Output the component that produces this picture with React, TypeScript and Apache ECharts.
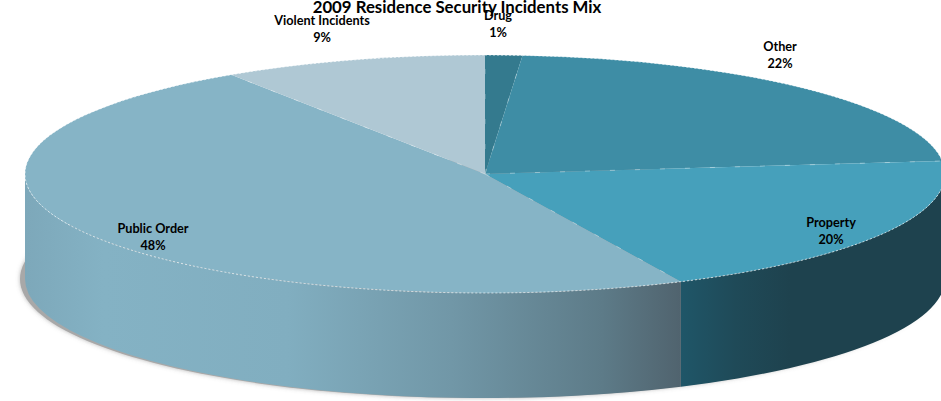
import React, { useEffect, useRef } from "react";
import * as echarts from "echarts";

const TITLE = "2009 Residence Security Incidents Mix";
const categories = ["Drug", "Other", "Property", "Public Order", "Violent Incidents"];
const sliceShares = [1.3, 21.95, 19.75, 47.7, 9.3];
const labelPercents = ["1%", "22%", "20%", "48%", "9%"];

const topColors = ["#347a8e", "#3e8da5", "#46a0bb", "#86b4c6", "#afc8d4"];
const labelCenters: number[][] = [
  [498, 23],
  [780, 54],
  [831, 230],
  [153, 236],
  [322, 28],
];

const CX = 485;
const CY = 174;
const RX = 460;
const RY = 119;
const DEPTH = 105;
const FONT = "Lato, 'Open Sans', sans-serif";

const px = (deg: number) => CX + RX * Math.sin((deg * Math.PI) / 180);
const py = (deg: number) => CY - RY * Math.cos((deg * Math.PI) / 180);

const cumulative = (i: number) => {
  const total = sliceShares.reduce((a, b) => a + b, 0);
  return (sliceShares.slice(0, i).reduce((a, b) => a + b, 0) / total) * 360;
};

const wallFills = (): Record<number, any> => ({
  1: "#1e424e",
  2: new echarts.graphic.LinearGradient(
    681, 0, 790, 0,
    [
      { offset: 0, color: "#1f5668" },
      { offset: 0.5, color: "#1f4a58" },
      { offset: 1, color: "#1e424e" },
    ],
    true
  ),
  3: new echarts.graphic.LinearGradient(
    25, 0, 681, 0,
    [
      { offset: 0, color: "#7da8ba" },
      { offset: 0.12, color: "#84b2c4" },
      { offset: 0.4, color: "#81aec0" },
      { offset: 0.65, color: "#7197a7" },
      { offset: 0.88, color: "#5d7b88" },
      { offset: 1, color: "#50636e" },
    ],
    true
  ),
});

const topPath = (a: number, b: number) =>
  `M${CX} ${CY}L${px(a)} ${py(a)}A${RX} ${RY} 0 ${b - a > 180 ? 1 : 0} 1 ${px(b)} ${py(b)}Z`;

const rimPath = (a: number, b: number) =>
  `M${px(a)} ${py(a)}A${RX} ${RY} 0 ${b - a > 180 ? 1 : 0} 1 ${px(b)} ${py(b)}`;

const wallPath = (a: number, b: number) => {
  const s = Math.max(a, 90);
  const e = Math.min(b, 270);
  if (e <= s) return null;
  const large = e - s > 180 ? 1 : 0;
  return (
    `M${px(s)} ${py(s)}A${RX} ${RY} 0 ${large} 1 ${px(e)} ${py(e)}` +
    `L${px(e)} ${py(e) + DEPTH}A${RX} ${RY} 0 ${large} 0 ${px(s)} ${py(s) + DEPTH}Z`
  );
};

export default function App() {
  const ref = useRef<HTMLDivElement>(null);

  useEffect(() => {
    document.body.style.margin = "0";
    document.body.style.overflow = "hidden";
    const chart = echarts.init(ref.current!, undefined, { renderer: "svg" });
    const fills = wallFills();
    const seriesData = categories.map((name, i) => ({ name, value: sliceShares[i] }));

    chart.setOption({
      animation: false,
      backgroundColor: "#ffffff",
      title: {
        text: TITLE,
        left: 452,
        top: -7,
        textAlign: "center",
        textStyle: { fontFamily: FONT, fontSize: 16.8, fontWeight: "bold", color: "#000" },
      },
      series: [
        {
          type: "custom",
          coordinateSystem: "none",
          silent: true,
          z: 1,
          data: [0],
          renderItem: () => ({
            type: "ellipse",
            shape: { cx: CX - 5, cy: CY + DEPTH, rx: RX, ry: RY },
            style: {
              fill: "#a8a8a8",
              shadowBlur: 4,
              shadowColor: "rgba(110,110,110,0.5)",
            },
          }),
        },
        {
          type: "custom",
          coordinateSystem: "none",
          silent: true,
          z: 2,
          data: seriesData,
          renderItem: (params: any) => {
            const i = params.dataIndex;
            const a = cumulative(i);
            const b = cumulative(i + 1);
            const d = wallPath(a, b);
            if (!d) return null;
            return {
              type: "path",
              shape: { pathData: d },
              style: { fill: fills[i] || "#1e424e" },
            };
          },
        },
        {
          type: "custom",
          coordinateSystem: "none",
          silent: true,
          z: 3,
          data: seriesData,
          renderItem: (params: any) => {
            const i = params.dataIndex;
            const a = cumulative(i);
            const b = cumulative(i + 1);
            return {
              type: "group",
              children: [
                {
                  type: "path",
                  shape: { pathData: topPath(a, b) },
                  style: { fill: topColors[i] },
                },
                {
                  type: "path",
                  shape: { pathData: rimPath(a, b) },
                  style: {
                    fill: "none",
                    stroke: "rgba(255,255,255,0.85)",
                    lineWidth: 0.8,
                    lineDash: [2, 2],
                  },
                },
                {
                  type: "line",
                  shape: { x1: CX, y1: CY, x2: px(a), y2: py(a) },
                  style: {
                    stroke: "rgba(255,255,255,0.45)",
                    lineWidth: 0.8,
                    lineDash: [5, 20],
                  },
                },
              ],
            };
          },
        },
        {
          type: "custom",
          coordinateSystem: "none",
          silent: true,
          z: 4,
          data: seriesData,
          renderItem: (params: any) => {
            const i = params.dataIndex;
            return {
              type: "text",
              x: labelCenters[i][0],
              y: labelCenters[i][1],
              style: {
                text: `${categories[i]}\n${labelPercents[i]}`,
                fontFamily: FONT,
                fontSize: 12.7,
                fontWeight: "bold",
                lineHeight: 17,
                fill: "#000",
                align: "center",
                verticalAlign: "middle",
              },
            };
          },
        },
      ],
    });
    return () => chart.dispose();
  }, []);

  return (
    <div
      ref={ref}
      style={{ position: "fixed", left: 0, top: 0, width: 941, height: 401 }}
    />
  );
}
